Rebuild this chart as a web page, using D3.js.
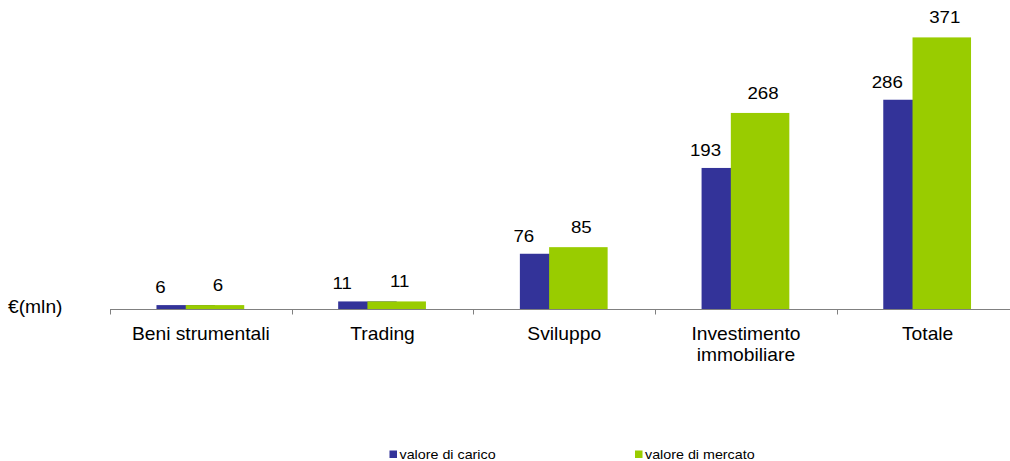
<!DOCTYPE html>
<html>
<head>
<meta charset="utf-8">
<script src="https://cdn.jsdelivr.net/npm/d3@7"></script>
<style>
  html, body { margin: 0; padding: 0; background: #fff; }
  svg { display: block; font-family: "Liberation Sans", Arial, sans-serif; }
</style>
</head>
<body>
<svg id="chart" width="1010" height="461"></svg>
<script>
const categories = [["Beni strumentali"], ["Trading"], ["Sviluppo"], ["Investimento", "immobiliare"], ["Totale"]];
const valoreCarico = [6, 11, 76, 193, 286];
const valoreMercato = [6, 11, 85, 268, 371];
const seriesNames = ["valore di carico", "valore di mercato"];
const seriesColors = ["#333399", "#99CC00"];
const unitLabel = "€(mln)";

const svg = d3.select("#chart");
const SX = 1.1; // horizontal stretch of the original text

const x = d3.scaleBand().domain(d3.range(categories.length)).range([110, 1018.5]).padding(0);
const y = d3.scaleLinear().domain([0, 422]).range([309.5, 0]);

const bw = x.bandwidth() * 0.322;
const blueX = i => x(i) + x.bandwidth() / 2 - bw * 1.5 / 2 - 0.5;
const greenX = i => blueX(i) + bw / 2;

function stext(sel, px, py, txt, size, anchor) {
  return sel.append("text")
    .attr("transform", `translate(${px},${py}) scale(${SX},1)`)
    .attr("text-anchor", anchor || "middle")
    .attr("font-size", size)
    .attr("fill", "#000")
    .text(txt);
}

// bars: blue first, green drawn over it
const g = svg.append("g");
g.selectAll("rect.b").data(valoreCarico).join("rect")
  .attr("class", "b")
  .attr("x", (d, i) => blueX(i)).attr("width", bw)
  .attr("y", d => y(d)).attr("height", d => y(0) - y(d))
  .attr("fill", seriesColors[0]);
g.selectAll("rect.m").data(valoreMercato).join("rect")
  .attr("class", "m")
  .attr("x", (d, i) => greenX(i)).attr("width", bw)
  .attr("y", d => y(d)).attr("height", d => y(0) - y(d))
  .attr("fill", seriesColors[1]);

// value labels
valoreCarico.forEach((v, i) => stext(svg, blueX(i) + 4, y(v) - 12, String(v), 17));
valoreMercato.forEach((v, i) => stext(svg, greenX(i) + bw / 2 + 3, y(v) - 14, String(v), 17));

// axis line and boundary ticks
const axisY = y(0);
svg.append("line").attr("x1", x.range()[0]).attr("x2", x.range()[1])
  .attr("y1", axisY).attr("y2", axisY).attr("stroke", "#808080").attr("stroke-width", 1);
d3.range(categories.length + 1).forEach(i => {
  const tx = Math.round(x.range()[0] + i * x.step()) + 0.5;
  svg.append("line").attr("x1", tx).attr("x2", tx).attr("y1", axisY).attr("y2", axisY + 5)
    .attr("stroke", "#808080").attr("stroke-width", 1);
});

// category labels
categories.forEach((lines, i) => {
  lines.forEach((ln, k) => stext(svg, x(i) + x.bandwidth() / 2, 339.5 + k * 21.7, ln, 17.5));
});

// unit label
stext(svg, 8, 313, unitLabel, 17.5, "start");

// legend
const legX = [389.5, 635];
seriesNames.forEach((n, i) => {
  svg.append("rect").attr("x", legX[i]).attr("y", 450.5).attr("width", 7.5).attr("height", 7.5).attr("fill", seriesColors[i]);
  stext(svg, legX[i] + 10, 459, n, 13, "start");
});
</script>
</body>
</html>
